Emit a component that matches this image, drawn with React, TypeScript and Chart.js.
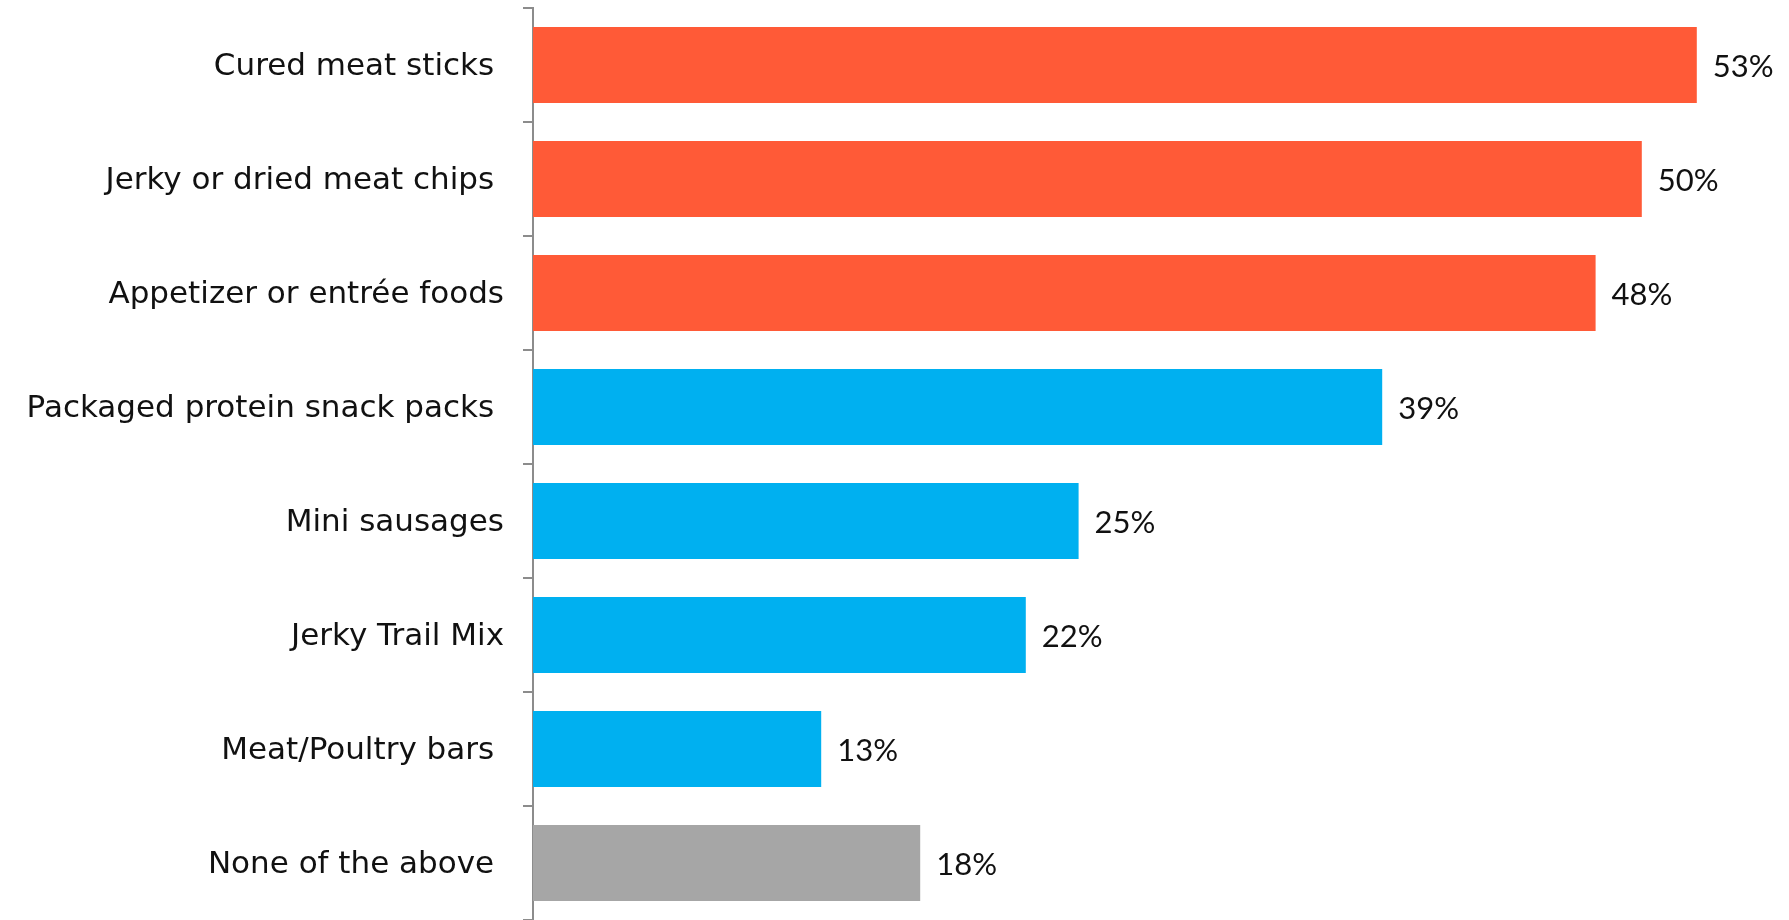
import React, { useEffect, useRef } from "react";
import { Chart, registerables } from "chart.js";

Chart.register(...registerables);

const categories = [
  "Cured meat sticks ",
  "Jerky or dried meat chips ",
  "Appetizer or entrée foods",
  "Packaged protein snack packs ",
  "Mini sausages",
  "Jerky Trail Mix",
  "Meat/Poultry bars ",
  "None of the above ",
];
const values = [52.9, 50.4, 48.3, 38.6, 24.8, 22.4, 13.1, 17.6];
const barColors = [
  "#FF5A37",
  "#FF5A37",
  "#FF5A37",
  "#00B0F0",
  "#00B0F0",
  "#00B0F0",
  "#00B0F0",
  "#A6A6A6",
];

const LABEL_FONT = "'DejaVu Sans'";
const VALUE_FONT = "Lato";

const valueLabels = {
  id: "valueLabels",
  afterDatasetsDraw(chart: any) {
    const ctx = chart.ctx;
    const meta = chart.getDatasetMeta(0);
    ctx.save();
    ctx.font = `31px ${VALUE_FONT}`;
    ctx.fillStyle = "#111111";
    ctx.textAlign = "left";
    ctx.textBaseline = "middle";
    meta.data.forEach((bar: any, i: number) => {
      const v = chart.data.datasets[0].data[i] as number;
      ctx.fillText(`${Math.round(v)}%`, bar.x + 16, bar.y + 2);
    });
    ctx.restore();
  },
};

export default function App() {
  const ref = useRef<HTMLCanvasElement>(null);
  useEffect(() => {
    if (!ref.current) return;
    const chart = new Chart(ref.current, {
      type: "bar",
      data: {
        labels: categories,
        datasets: [
          {
            data: values,
            backgroundColor: barColors,
            borderWidth: 0,
            barPercentage: 0.667,
            categoryPercentage: 1,
          },
        ],
      },
      options: {
        indexAxis: "y",
        animation: false,
        responsive: true,
        maintainAspectRatio: false,
        layout: { padding: { top: 8, bottom: 0, left: 0, right: 2 } },
        plugins: {
          legend: { display: false },
          tooltip: { enabled: false },
        },
        scales: {
          x: {
            display: false,
            min: 0,
            max: 57,
          },
          y: {
            afterFit: (s: any) => {
              s.width = 533;
              s.paddingTop = 0;
              s.paddingBottom = 0;
            },
            border: { display: true, color: "#8C8C8C", width: 2 },
            grid: {
              display: true,
              drawOnChartArea: false,
              drawTicks: true,
              tickLength: 10,
              color: "#8C8C8C",
              lineWidth: 2,
              offset: true,
            },
            ticks: {
              color: "#111111",
              padding: 19,
              labelOffset: 2,
              font: { family: LABEL_FONT, size: 31 },
            },
          },
        },
      },
      plugins: [valueLabels],
    });
    return () => chart.destroy();
  }, []);
  return (
    <div style={{ position: "absolute", left: 0, top: 0, width: 1789, height: 920 }}>
      <canvas ref={ref} />
    </div>
  );
}
